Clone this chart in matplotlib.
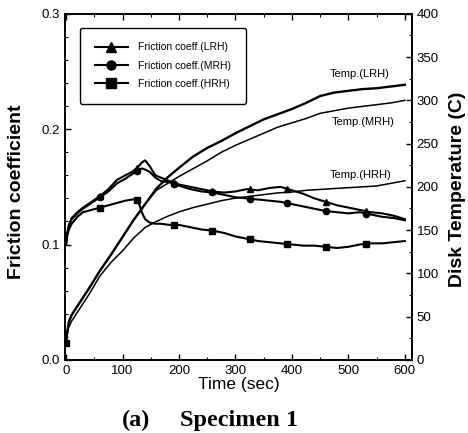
import numpy as np
import matplotlib
matplotlib.use("Agg")
import matplotlib.pyplot as plt
from matplotlib.ticker import MultipleLocator, FormatStrFormatter

plt.rcParams['font.family'] = ['Liberation Sans', 'DejaVu Sans']

# ---- friction data ----
t_f = [0, 2, 5, 10, 20, 30, 45, 60, 75, 90, 105, 117, 127, 134, 140, 148, 158, 168, 183,
       200, 220, 240, 260, 280, 300, 320, 340, 360, 380, 400, 420, 440, 460, 480, 500,
       520, 540, 560, 580, 600]
fric_lrh = [0.100, 0.110, 0.117, 0.123, 0.128, 0.132, 0.137, 0.142, 0.148, 0.156, 0.160,
            0.163, 0.167, 0.171, 0.173, 0.168, 0.160, 0.158, 0.155, 0.152, 0.150, 0.148,
            0.146, 0.145, 0.146, 0.148, 0.147, 0.149, 0.150, 0.147, 0.144, 0.140, 0.137,
            0.134, 0.132, 0.130, 0.128, 0.127, 0.125, 0.122]
fric_mrh = [0.100, 0.108, 0.116, 0.122, 0.127, 0.131, 0.136, 0.141, 0.146, 0.153, 0.157,
            0.161, 0.164, 0.166, 0.165, 0.163, 0.158, 0.155, 0.154, 0.151, 0.148, 0.146,
            0.145, 0.143, 0.141, 0.140, 0.139, 0.138, 0.137, 0.135, 0.133, 0.131, 0.129,
            0.128, 0.127, 0.128, 0.126, 0.124, 0.123, 0.121]
fric_hrh = [0.100, 0.108, 0.113, 0.118, 0.124, 0.128, 0.130, 0.132, 0.134, 0.136, 0.138,
            0.139, 0.139, 0.128, 0.122, 0.119, 0.118, 0.118, 0.117, 0.117, 0.115, 0.113,
            0.112, 0.110, 0.107, 0.105, 0.103, 0.102, 0.101, 0.100, 0.099, 0.099, 0.098,
            0.097, 0.098, 0.100, 0.101, 0.101, 0.102, 0.103]
marker_t = [60, 126, 192, 258, 325, 392, 460, 532]

# ---- temperature data ----
t_T = [0, 2, 5, 10, 20, 40, 60, 80, 100, 120, 140, 160, 180, 200, 225, 250, 275, 300,
       325, 350, 375, 400, 425, 450, 475, 500, 525, 550, 575, 600]
temp_lrh = [20, 32, 44, 52, 62, 82, 103, 122, 142, 162, 180, 198, 211, 222, 235, 245,
            253, 262, 270, 278, 284, 290, 297, 305, 309, 311, 313, 314, 316, 318]
temp_mrh = [20, 32, 44, 52, 62, 82, 103, 122, 142, 162, 180, 196, 204, 212, 221, 230,
            240, 248, 255, 262, 269, 274, 279, 285, 288, 291, 293, 295, 297, 300]
temp_hrh = [20, 30, 38, 45, 55, 75, 97, 113, 126, 141, 153, 160, 166, 171, 176, 180,
            184, 187, 189, 191, 193, 194, 196, 197, 198, 199, 200, 201, 204, 207]

fig = plt.figure(figsize=(4.68, 4.33), dpi=100)
ax = fig.add_axes([0.139, 0.169, 0.741, 0.799])
ax2 = ax.twinx()

lw = 1.5
for y, m, lab in [(fric_lrh, '^', 'Friction coeff.(LRH)'),
                  (fric_mrh, 'o', 'Friction coeff.(MRH)'),
                  (fric_hrh, 's', 'Friction coeff.(HRH)')]:
    ax.plot(t_f, y, color='black', lw=lw)
    ax.plot(marker_t, np.interp(marker_t, t_f, y), ls='none', marker=m,
            color='black', ms=4.5)
    ax.plot([], [], color='black', lw=lw, marker=m, ms=6.5, label=lab)

ax2.plot(t_T, temp_lrh, color='black', lw=1.7)
ax2.plot(t_T, temp_mrh, color='black', lw=1.1)
ax2.plot(t_T, temp_hrh, color='black', lw=1.1, marker='s', ms=5, markevery=[0])

ax2.text(467, 331, 'Temp.(LRH)', fontsize=8, ha='left', va='center')
ax2.text(471, 275, 'Temp.(MRH)', fontsize=8, ha='left', va='center')
ax2.text(467, 214, 'Temp.(HRH)', fontsize=8, ha='left', va='center')

ax.set_xlim(-1.8, 612.4)
ax.set_ylim(0, 0.3)
ax2.set_ylim(0, 400)

ax.xaxis.set_major_locator(MultipleLocator(100))
ax.xaxis.set_minor_locator(MultipleLocator(50))
ax.yaxis.set_major_locator(MultipleLocator(0.1))
ax.yaxis.set_minor_locator(MultipleLocator(0.02))
ax.yaxis.set_major_formatter(FormatStrFormatter('%.1f'))
ax2.yaxis.set_major_locator(MultipleLocator(50))
ax2.yaxis.set_minor_locator(MultipleLocator(25))

ax.tick_params(axis='both', which='both', direction='in', top=True, labelsize=9.5)
ax.tick_params(which='major', length=4, width=1)
ax.tick_params(which='minor', length=2, width=0.8)
ax2.tick_params(axis='y', which='both', direction='in', labelsize=9.5)
ax2.tick_params(which='major', length=4, width=1)
ax2.tick_params(which='minor', length=2, width=0.8)
for a in (ax, ax2):
    for s in a.spines.values():
        s.set_linewidth(1.2)

ax.set_xlabel('Time (sec)', fontsize=12.5, labelpad=0)
ax.set_ylabel('Friction coefficient', fontsize=14, fontweight='bold')
ax2.set_ylabel('Disk Temperature (C)', fontsize=14, fontweight='bold')
ax.yaxis.set_label_coords(-0.115, 0.486)
ax2.yaxis.set_label_coords(1.108, 0.494)

leg = ax.legend(loc='upper left', bbox_to_anchor=(0.043, 0.96), fontsize=7.5,
                frameon=True, fancybox=True, edgecolor='black', handlelength=3.2,
                borderpad=1.4, labelspacing=0.8, handletextpad=1.0,
                borderaxespad=0.0)
leg.get_frame().set_linewidth(1.0)
leg.get_frame().set_alpha(1)

serif = ['Liberation Serif', 'DejaVu Serif']
fig.text(122 / 468, 0.028, '(a)', fontsize=17.5, fontweight='bold',
         family=serif, ha='left', va='center')
fig.text(180 / 468, 0.028, 'Specimen 1', fontsize=17.5, fontweight='bold',
         family=serif, ha='left', va='center')

fig.savefig('out.png', dpi=100)
